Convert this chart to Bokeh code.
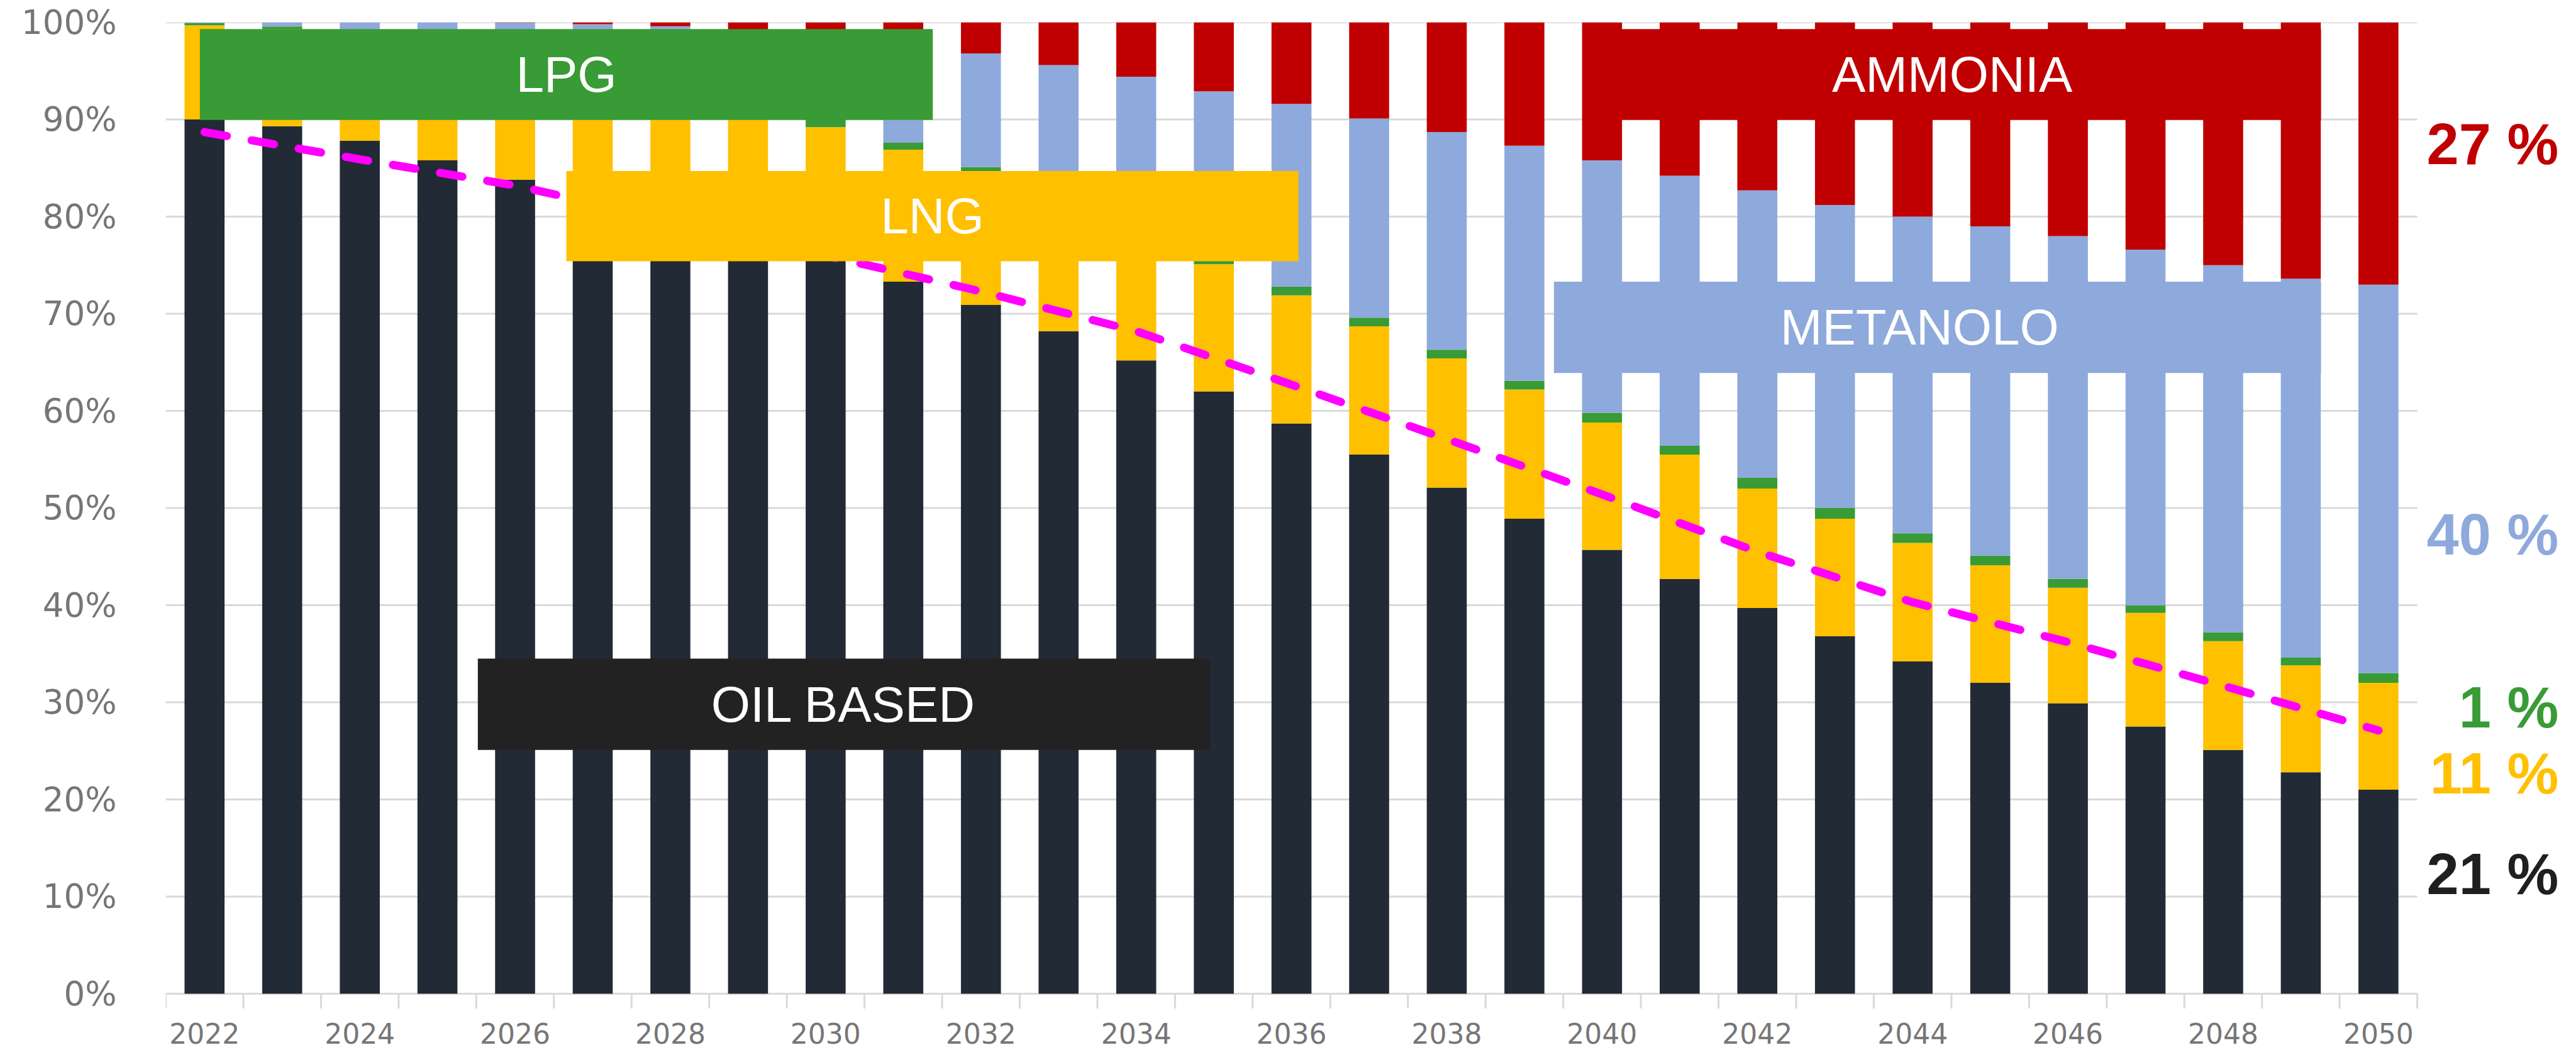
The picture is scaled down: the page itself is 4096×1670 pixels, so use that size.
from bokeh.plotting import figure
from bokeh.models import ColumnDataSource, FixedTicker
from bokeh.core.properties import value
from bokeh.embed import file_html
from bokeh.resources import INLINE

# ---- data: fuel mix share of the fleet (%), stacked bottom to top ----
years = list(range(2022, 2051))
oil_based = [90.0, 89.3, 87.8, 85.8, 83.8, 81.7, 79.6, 77.5, 75.5, 73.3,
             70.9, 68.2, 65.2, 62.0, 58.7, 55.5, 52.1, 48.9, 45.7, 42.7,
             39.7, 36.8, 34.2, 32.0, 29.9, 27.5, 25.1, 22.8, 21]
lng = [9.7, 10.0, 10.5, 11.0, 11.6, 12.2, 12.8, 13.3, 13.7, 13.6,
       13.5, 13.4, 13.3, 13.1, 13.2, 13.2, 13.3, 13.3, 13.1, 12.8,
       12.3, 12.1, 12.2, 12.1, 11.9, 11.7, 11.2, 11.0, 11]
lpg = [0.2, 0.27, 0.4, 0.5, 0.6, 0.7, 0.8, 0.8, 0.9, 0.7,
       0.7, 0.8, 0.8, 0.8, 0.9, 0.9, 0.9, 0.9, 1.0, 0.9,
       1.1, 1.1, 1.0, 1.0, 0.9, 0.8, 0.9, 0.8, 1]
metanolo = [0.1, 0.43, 1.3, 2.7, 3.95, 5.2, 6.4, 7.5, 8.5, 10.3,
            11.7, 13.2, 15.1, 17.0, 18.8, 20.5, 22.4, 24.2, 26.0, 27.8,
            29.6, 31.2, 32.6, 33.9, 35.3, 36.6, 37.8, 39.0, 40]
ammonia = [0.0, 0.0, 0.0, 0.0, 0.05, 0.2, 0.4, 0.9, 1.4, 2.1,
           3.2, 4.4, 5.6, 7.1, 8.4, 9.9, 11.3, 12.7, 14.2, 15.8,
           17.3, 18.8, 20.0, 21.0, 22.0, 23.4, 25.0, 26.4, 27]

# dashed trajectory line
trend_years = [2022, 2024, 2026, 2028, 2030, 2032, 2034, 2036, 2038, 2040,
               2042, 2044, 2046, 2048, 2050]
trend_share = [88.7, 85.9, 83.2, 79.6, 76.0, 72.3, 68.2, 62.7, 57.1, 51.4,
               45.5, 40.3, 36.2, 31.7, 27.1]

y_ticks = list(range(0, 101, 10))
x_label_years = list(range(2022, 2051, 2))

# ---- styling ----
C_OIL = "#222A35"
C_LNG = "#FFC000"
C_LPG = "#389B35"
C_MEOH = "#8EA9DB"
C_NH3 = "#C00000"
C_OIL_BOX = "#222222"
GRID = "#D9D9D9"
TICK_TEXT = "#767676"

x_lo = years[0] - 0.5
x_hi = years[-1] + 0.5

source = ColumnDataSource(dict(
    year=years, oil=oil_based, lng=lng, lpg=lpg, meoh=metanolo, nh3=ammonia,
))

# the frame reaches past the last bar (room for the 2050 shares) and
# below zero (room for the year labels, drawn as text)
p = figure(
    width=4096, height=1670,
    x_range=(x_lo, x_hi + 2.0), y_range=(-5.7, 100),
    output_backend="svg", toolbar_location=None, x_axis_location=None,
    min_border_left=263, min_border_right=6,
    min_border_top=35, min_border_bottom=2,
)
p.outline_line_color = None
p.background_fill_color = "white"
p.border_fill_color = "white"
p.xgrid.grid_line_color = None
p.ygrid.grid_line_color = None

# horizontal gridlines (the 0 % one doubles as the category axis line)
p.segment(x0=[x_lo] * len(y_ticks), x1=[x_hi] * len(y_ticks),
          y0=y_ticks, y1=y_ticks, line_color=GRID, line_width=3,
          level="underlay")

# category tick marks between the bars
bounds = [y - 0.5 for y in years] + [x_hi]
p.segment(x0=bounds, x1=bounds, y0=[0] * len(bounds),
          y1=[-1.52] * len(bounds), line_color=GRID, line_width=3,
          level="underlay")

# year labels
p.text(
    x=x_label_years, y=[-4.05] * len(x_label_years),
    text=[str(y) for y in x_label_years],
    text_font=value("DejaVu Sans"), text_font_size="44px",
    text_color=TICK_TEXT, text_align="center", text_baseline="middle",
)

# stacked bars
p.vbar_stack(
    ["oil", "lng", "lpg", "meoh", "nh3"], x="year", width=0.515,
    fill_color=[C_OIL, C_LNG, C_LPG, C_MEOH, C_NH3], line_color=None,
    source=source,
)

# magenta dashed trajectory
p.line(trend_years, trend_share, line_color="#FF00FF", line_width=13,
       line_dash="36 40", line_cap="round")

# category boxes with names
box_names = ["LPG", "LNG", "AMMONIA", "METANOLO", "OIL BASED"]
box_fill = [C_LPG, C_LNG, C_NH3, C_MEOH, C_OIL_BOX]
box_left = [2021.94, 2026.66, 2039.76, 2039.38, 2025.52]
box_right = [2031.38, 2036.09, 2049.26, 2049.26, 2034.95]
box_top = [99.3, 84.7, 99.3, 73.3, 34.5]
box_bottom = [89.95, 75.4, 89.95, 63.9, 25.1]
text_dx = [0, 0, 0, -0.23, 0]

p.quad(left=box_left, right=box_right, top=box_top, bottom=box_bottom,
       fill_color=box_fill, line_color=None)
p.text(
    x=[(l + r) / 2 + d for l, r, d in zip(box_left, box_right, text_dx)],
    y=[(t + b) / 2 for t, b in zip(box_top, box_bottom)],
    text=box_names,
    text_font=value("Liberation Sans"), text_font_size="80px",
    text_color="white", text_align="center", text_baseline="middle",
)

# 2050 shares written at the right
side_values = [ammonia[-1], metanolo[-1], lpg[-1], lng[-1], oil_based[-1]]
side_colors = [C_NH3, C_MEOH, C_LPG, C_LNG, "#1F1F1F"]
side_y = [87.5, 47.3, 29.5, 22.7, 12.3]
p.text(
    x=[x_hi + 1.82] * len(side_values), y=side_y,
    text=[f"{v} %" for v in side_values],
    text_font=value("Liberation Sans"), text_font_style="bold",
    text_font_size="92px", text_color=side_colors,
    text_align="right", text_baseline="middle",
)

# y axis
p.yaxis.ticker = FixedTicker(ticks=y_ticks)
p.yaxis.major_label_overrides = {t: f"{t}%" for t in y_ticks}
p.yaxis.axis_line_color = None
p.yaxis.major_tick_line_color = None
p.yaxis.minor_tick_line_color = None
p.yaxis.major_label_standoff = 72
p.yaxis.major_label_text_font = "DejaVu Sans"
p.yaxis.major_label_text_font_size = "53px"
p.yaxis.major_label_text_color = TICK_TEXT

open("out.html", "w").write(file_html(p, INLINE))
